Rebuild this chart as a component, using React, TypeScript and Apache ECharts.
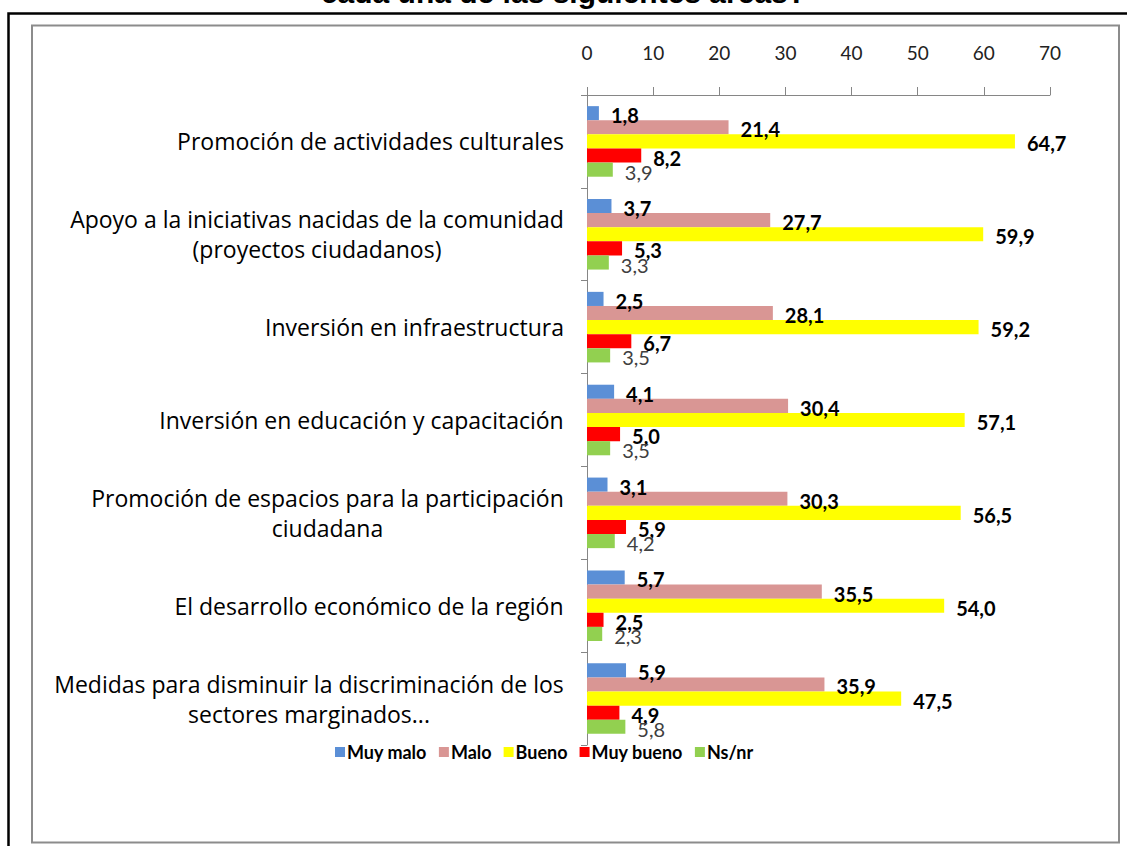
import React, { useEffect, useRef } from "react";
import * as echarts from "echarts";

const categories = [
  "Promoción de actividades culturales",
  "Apoyo a la iniciativas nacidas de la comunidad\n(proyectos ciudadanos)",
  "Inversión en infraestructura",
  "Inversión en educación y capacitación",
  "Promoción de espacios para la participación\nciudadana",
  "El desarrollo económico de la región",
  "Medidas para disminuir la discriminación de los\nsectores marginados...",
];
const seriesNames = ["Muy malo", "Malo", "Bueno", "Muy bueno", "Ns/nr"];
const muyMalo = [1.8, 3.7, 2.5, 4.1, 3.1, 5.7, 5.9];
const malo = [21.4, 27.7, 28.1, 30.4, 30.3, 35.5, 35.9];
const bueno = [64.7, 59.9, 59.2, 57.1, 56.5, 54.0, 47.5];
const muyBueno = [8.2, 5.3, 6.7, 5.0, 5.9, 2.5, 4.9];
const nsnr = [3.9, 3.3, 3.5, 3.5, 4.2, 2.3, 5.8];
const xTicks = { min: 0, max: 70, interval: 10 };
const titleText = "cada una de las siguientes áreas?";

const colors = ["#5B8FD6", "#D99694", "#FFFF00", "#FF0000", "#92D050"];
const FONT = "Lato, 'Open Sans', sans-serif";
const CAT_FONT = "'Open Sans', Lato, sans-serif";

export default function App() {
  const ref = useRef<HTMLDivElement>(null);
  useEffect(() => {
    if (!ref.current) return;
    const chart = echarts.init(ref.current, undefined, { renderer: "svg" });
    const catFontSize = 23;
    const ctx = document.createElement("canvas").getContext("2d")!;
    ctx.font = `${catFontSize}px 'Open Sans'`;
    const rich: any = {};
    categories.forEach((c, i) => {
      const w = Math.max(...c.split("\n").map((l) => ctx.measureText(l).width));
      rich["c" + i] = {
        width: Math.ceil(w) + 2,
        align: "center",
        fontSize: catFontSize,
        fontFamily: CAT_FONT,
        color: "#000",
        lineHeight: 30,
      };
    });
    const data = [muyMalo, malo, bueno, muyBueno, nsnr];
    const fmt = (v: number) => v.toFixed(1).replace(".", ",");
    const series = seriesNames.map((name, i) => ({
      name,
      type: "bar",
      data: data[i],
      barGap: "0%",
      barCategoryGap: "24%",
      itemStyle: { color: colors[i] },
      label: {
        show: true,
        position: "right",
        distance: 12,
        offset: [0, 2],
        formatter: (p: any) => fmt(p.value),
        fontFamily: FONT,
        fontSize: 20,
        fontWeight: i === 4 ? "normal" : "bold",
        color: i === 4 ? "#404040" : "#000",
      },
    }));
    chart.setOption({
      animation: false,
      backgroundColor: "#fff",
      textStyle: { fontFamily: FONT },
      graphic: [
        {
          type: "text",
          left: "center",
          top: -23,
          style: {
            text: titleText,
            font: "bold 30px 'Liberation Sans', Arial, sans-serif",
            fill: "#000",
          },
        },
        {
          type: "rect",
          shape: { x: 8.5, y: 13.5, width: 1200, height: 900 },
          style: { fill: "none", stroke: "#000", lineWidth: 2.5 },
          silent: true,
        },
        {
          type: "rect",
          shape: { x: 32, y: 25.5, width: 1087, height: 817 },
          style: { fill: "none", stroke: "#8C8C8C", lineWidth: 2 },
          silent: true,
        },
      ],
      legend: {
        data: seriesNames,
        left: 330,
        top: 738,
        itemWidth: 10,
        itemHeight: 10,
        itemGap: 12,
        icon: "rect",
        textStyle: { fontFamily: FONT, fontSize: 18, fontWeight: "bold", color: "#000", padding: [0, 0, 0, -3] },
      },
      grid: { left: 587, right: 77, top: 95, bottom: 101, containLabel: false },
      xAxis: {
        type: "value",
        position: "top",
        min: xTicks.min,
        max: xTicks.max,
        interval: xTicks.interval,
        splitLine: { show: false },
        axisLine: { show: true, lineStyle: { color: "#868686", width: 1 } },
        axisTick: { show: true, inside: false, length: 8, lineStyle: { color: "#868686" } },
        axisLabel: { margin: 33, fontFamily: FONT, fontSize: 19, color: "#222" },
      },
      yAxis: {
        type: "category",
        inverse: true,
        data: categories,
        axisLine: { show: true, lineStyle: { color: "#868686", width: 1 } },
        axisTick: { show: true, length: 6, lineStyle: { color: "#868686" } },
        axisLabel: {
          margin: 22,
          formatter: (v: string, idx: number) =>
            v.split("\n").map((l) => `{c${idx}|${l}}`).join("\n"),
          rich,
        },
      },
      series,
    });
    return () => chart.dispose();
  }, []);
  return (
    <div
      ref={ref}
      style={{ position: "fixed", left: 0, top: 0, width: 1127, height: 846 }}
    />
  );
}
